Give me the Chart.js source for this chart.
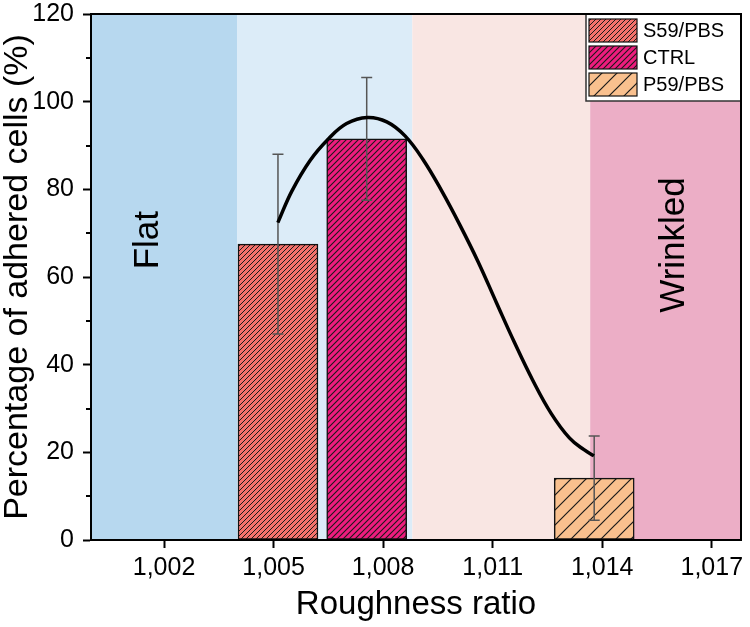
<!DOCTYPE html>
<html>
<head>
<meta charset="utf-8">
<script src="https://cdn.jsdelivr.net/npm/chart.js@4/dist/chart.umd.min.js"></script>
<style>
  html, body { margin: 0; padding: 0; background: #fff; }
  #wrap { width: 750px; height: 627px; }
</style>
</head>
<body>
<div id="wrap"><canvas id="chart"></canvas></div>
<script>
// bars
const seriesLabels = ['S59/PBS', 'CTRL', 'P59/PBS'];
const barRatios = [1.00512, 1.00755, 1.01378];
const barValues = [67.5, 91.5, 14.1];
const barErrors = [20.5, 14.0, 9.6];

// fitted curve, points
const curveRatios = [1.005117, 1.0055, 1.006, 1.0065, 1.007, 1.007566, 1.0081, 1.0086,
  1.0091, 1.0096, 1.0101, 1.0106, 1.0111, 1.0116, 1.0121, 1.0126, 1.0131, 1.0135, 1.013773];
const curveValues = [72.4, 79.6, 86.6, 91.5, 95.0, 96.4, 95.4, 92.2,
  86.7, 79.7, 71.9, 63.5, 54.2, 45.0, 36.4, 28.9, 23.3, 20.6, 19.2];

// shaded regions behind the bars
const regionEdges = [1.000, 1.004, 1.0088, 1.01367, 1.0178];
const xTickValues = [1.002, 1.005, 1.008, 1.011, 1.014, 1.017];

const regionFill = ['#b7d8ef', '#dcecf8', '#f9e6e3', '#ecaec6'];
const barFill = ['#f4726c', '#ee1c7e', '#f9c08e'];

const FONT = '"Liberation Sans", Arial, sans-serif';

function hatch(fill, gap, width) {
  const c = document.createElement('canvas');
  c.width = gap; c.height = gap;
  const g = c.getContext('2d');
  g.fillStyle = fill;
  g.fillRect(0, 0, gap, gap);
  g.strokeStyle = '#1a1a1a';
  g.lineWidth = width;
  g.beginPath();
  g.moveTo(-1, gap + 1); g.lineTo(gap + 1, -1);
  g.moveTo(-1, 1); g.lineTo(1, -1);
  g.moveTo(gap - 1, gap + 1); g.lineTo(gap + 1, gap - 1);
  g.stroke();
  return g.createPattern(c, 'repeat');
}

const patterns = [hatch(barFill[0], 5, 1), hatch(barFill[1], 6, 1.1), hatch(barFill[2], 15, 1.2)];

const regionsPlugin = {
  id: 'regions',
  beforeDatasetsDraw(chart) {
    const { ctx, chartArea: a, scales: { x, y } } = chart;
    ctx.save();
    for (let i = 0; i < regionFill.length; i++) {
      const x0 = x.getPixelForValue(regionEdges[i]);
      const x1 = x.getPixelForValue(regionEdges[i + 1]);
      ctx.fillStyle = regionFill[i];
      ctx.fillRect(x0, a.top, x1 - x0, a.bottom - a.top);
    }
    ctx.fillStyle = '#000';
    ctx.font = '35px ' + FONT;
    ctx.textAlign = 'center';
    ctx.textBaseline = 'middle';
    [['Flat', 1.00156, 68.4], ['Wrinkled', 1.01598, 67.3]].forEach(([t, xv, yv]) => {
      ctx.save();
      ctx.translate(x.getPixelForValue(xv), y.getPixelForValue(yv));
      ctx.rotate(-Math.PI / 2);
      ctx.fillText(t, 0, 0);
      ctx.restore();
    });
    ctx.restore();
  }
};

const errorBarPlugin = {
  id: 'errorBars',
  afterDatasetDraw(chart, args) {
    const ds = chart.data.datasets[args.index];
    if (!ds.errors) return;
    const { ctx, scales: { y } } = chart;
    ctx.save();
    ctx.strokeStyle = '#555';
    ctx.lineWidth = 1.5;
    args.meta.data.forEach((bar, j) => {
      const v = ds.data[j].y, e = ds.errors[j];
      const yt = y.getPixelForValue(v + e), yb = y.getPixelForValue(v - e);
      ctx.beginPath();
      ctx.moveTo(bar.x, yt); ctx.lineTo(bar.x, yb);
      ctx.moveTo(bar.x - 5.5, yt); ctx.lineTo(bar.x + 5.5, yt);
      ctx.moveTo(bar.x - 5.5, yb); ctx.lineTo(bar.x + 5.5, yb);
      ctx.stroke();
    });
    ctx.restore();
  }
};

const framePlugin = {
  id: 'frame',
  afterDraw(chart) {
    const { ctx, chartArea: a, scales: { y } } = chart;
    ctx.save();
    // minor y ticks
    ctx.strokeStyle = '#000';
    ctx.lineWidth = 2;
    for (let v = 10; v < 120; v += 20) {
      const py = Math.round(y.getPixelForValue(v));
      ctx.beginPath();
      ctx.moveTo(a.left - 5, py); ctx.lineTo(a.left, py);
      ctx.stroke();
    }
    // legend box
    const bx = 586, by = a.top, bw = a.right - bx, bh = 87;
    ctx.fillStyle = '#fff';
    ctx.fillRect(bx, by, bw, bh);
    ctx.lineWidth = 1.5;
    ctx.strokeStyle = '#333';
    ctx.strokeRect(bx, by, bw, bh);
    ctx.font = '20px ' + FONT;
    ctx.textBaseline = 'middle';
    ctx.textAlign = 'left';
    chart.data.datasets.forEach((ds, i) => {
      if (!ds.errors) return;
      const sy = by + 5 + i * 27;
      ctx.fillStyle = ds.backgroundColor;
      ctx.fillRect(bx + 3, sy, 48, 23);
      ctx.lineWidth = 1.2;
      ctx.strokeStyle = '#111';
      ctx.strokeRect(bx + 3, sy, 48, 23);
      ctx.fillStyle = '#000';
      ctx.fillText(ds.label, bx + 57, sy + 12);
    });
    // plot frame
    ctx.lineWidth = 2;
    ctx.strokeStyle = '#000';
    ctx.strokeRect(a.left, a.top, a.right - a.left, a.bottom - a.top);
    ctx.restore();
  }
};

const datasets = seriesLabels.map((label, i) => ({
  type: 'bar',
  label,
  data: [{ x: barRatios[i], y: barValues[i] }],
  errors: [barErrors[i]],
  backgroundColor: patterns[i],
  borderColor: '#111',
  borderWidth: 1.5,
  borderSkipped: false,
  barThickness: 80,
  grouped: false,
  order: 1
}));

datasets.push({
  type: 'line',
  label: 'fit',
  data: curveRatios.map((r, i) => ({ x: r, y: curveValues[i] })),
  borderColor: '#000',
  borderWidth: 3.5,
  pointRadius: 0,
  tension: 0.4,
  fill: false,
  order: 0
});

new Chart(document.getElementById('chart'), {
  type: 'bar',
  data: { datasets },
  options: {
    responsive: true,
    maintainAspectRatio: false,
    animation: false,
    events: [],
    layout: { padding: { left: 0, top: 14, right: 9, bottom: 0 } },
    plugins: { legend: { display: false }, tooltip: { enabled: false } },
    scales: {
      x: {
        type: 'linear',
        offset: false,
        min: 1.000,
        max: 1.0178,
        afterFit(s) { s.height = 87; s.paddingLeft = 0; s.paddingRight = 0; },
        afterBuildTicks(s) { s.ticks = xTickValues.map(v => ({ value: v })); },
        grid: { offset: false, drawOnChartArea: false, tickLength: 8, tickWidth: 2, tickColor: '#000' },
        border: { color: '#000', width: 2 },
        ticks: {
          color: '#000',
          font: { family: FONT, size: 25 },
          padding: 5,
          maxRotation: 0,
          callback: v => v.toFixed(3).replace('.', ',')
        },
        title: {
          display: true,
          text: 'Roughness ratio',
          color: '#000',
          font: { family: FONT, size: 33 },
          padding: { top: 0, bottom: 2 }
        }
      },
      y: {
        min: 0,
        max: 120,
        afterFit(s) { s.width = 91; s.paddingTop = 0; s.paddingBottom = 0; },
        grid: {
          drawOnChartArea: false,
          tickLength: 8,
          tickWidth: 2,
          tickColor: c => (c.tick && c.tick.value % 20 === 0) ? '#000' : 'rgba(0,0,0,0)'
        },
        border: { color: '#000', width: 2 },
        ticks: {
          stepSize: 10,
          color: '#000',
          font: { family: FONT, size: 25 },
          padding: 9,
          callback: v => (v % 20 === 0 ? v : '')
        },
        title: {
          display: true,
          text: 'Percentage of adhered cells (%)',
          color: '#000',
          font: { family: FONT, size: 34, lineHeight: 1.05 },
          padding: { top: 0, bottom: 0 }
        }
      }
    }
  },
  plugins: [regionsPlugin, errorBarPlugin, framePlugin]
});
</script>
</body>
</html>
